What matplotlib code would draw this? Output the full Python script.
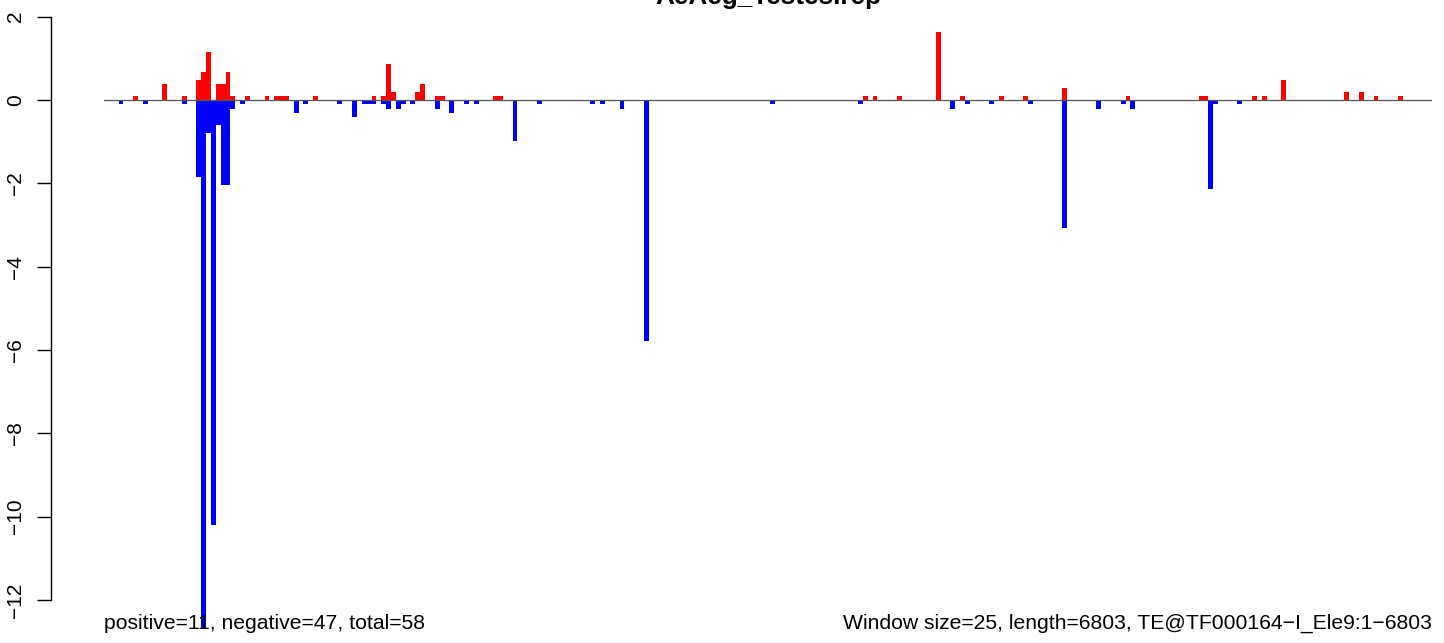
import matplotlib
matplotlib.use("Agg")
import matplotlib.pyplot as plt
import numpy as np

plt.rcParams['font.family'] = ['Liberation Sans', 'DejaVu Sans']

title = "AeAeg_Testes.rep"
n_windows = 273
left_note = "positive=11, negative=47, total=58"
right_note = "Window size=25, length=6803, TE@TF000164\u2212I_Ele9:1\u22126803"

pos_idx = [6, 12, 16, 19, 20, 21, 23, 24, 25, 26, 29, 33, 35, 36, 37, 43, 55, 57, 58, 59,
           64, 65, 68, 69, 80, 81, 156, 158, 163, 171, 176, 184, 189, 197, 210, 225, 226,
           236, 238, 242, 255, 258, 261, 266]
pos_val = [0.1, 0.38, 0.1, 0.48, 0.67, 1.15, 0.38, 0.38, 0.67, 0.1, 0.1, 0.1, 0.1, 0.1, 0.1,
           0.1, 0.1, 0.1, 0.87, 0.19, 0.19, 0.38, 0.1, 0.1, 0.1, 0.1, 0.1, 0.1, 0.1, 1.63,
           0.1, 0.1, 0.1, 0.29, 0.1, 0.1, 0.1, 0.1, 0.1, 0.48, 0.19, 0.19, 0.1, 0.1]

neg_idx = [3, 8, 16, 19, 20, 21, 22, 23, 24, 25, 26, 28, 39, 41, 48, 51, 53, 54, 55, 57, 58,
           60, 61, 63, 68, 71, 74, 76, 84, 89, 100, 102, 106, 111, 137, 155, 174, 177, 182,
           190, 197, 204, 209, 211, 227, 228, 233]
neg_val = [-0.1, -0.1, -0.1, -1.84, -12.67, -0.79, -10.2, -0.6, -2.03, -2.03, -0.22, -0.1,
           -0.3, -0.1, -0.1, -0.4, -0.1, -0.1, -0.1, -0.1, -0.21, -0.21, -0.1, -0.1, -0.21,
           -0.3, -0.1, -0.1, -0.98, -0.1, -0.1, -0.1, -0.21, -5.78, -0.1, -0.1, -0.21, -0.1,
           -0.1, -0.1, -3.08, -0.21, -0.1, -0.21, -2.13, -0.1, -0.1]

yticks = [2, 0, -2, -4, -6, -8, -10, -12]

W, H = 1444, 643
fig = plt.figure(figsize=(W / 100, H / 100), dpi=100)
ax = fig.add_axes([104 / W, 1 - 600 / H, 1328 / W, (600 - 16.67) / H])

ax.bar(pos_idx, pos_val, width=1, align='edge', color='#FF0000', linewidth=0, clip_on=False)
ax.bar(neg_idx, neg_val, width=1, align='edge', color='#0000FF', linewidth=0, clip_on=False)
ax.plot([0, n_windows], [0, 0], color='#555555', lw=0.9, zorder=5)

ax.set_xlim(0, n_windows)
ax.set_ylim(-12, 2)
for s in ['top', 'right', 'bottom']:
    ax.spines[s].set_visible(False)
ax.spines['left'].set_position(('outward', 38))
ax.spines['left'].set_linewidth(1.0)
ax.set_xticks([])
ax.set_yticks(yticks)
ax.set_yticklabels([str(t).replace('-', '\u2212') for t in yticks], rotation=90,
                   va='center', ha='right', fontsize=15)
ax.tick_params(axis='y', length=10, width=1.0, pad=9)

fig.text(768 / W, 1 - 4 / H, title, ha='center', va='baseline', fontsize=18.8,
         fontweight='bold')
fig.text(104 / W, 1 - 629 / H, left_note, ha='left', va='baseline', fontsize=15.2)
fig.text(1432 / W, 1 - 629 / H, right_note, ha='right', va='baseline', fontsize=15.2)

fig.savefig("out.png", dpi=100)
